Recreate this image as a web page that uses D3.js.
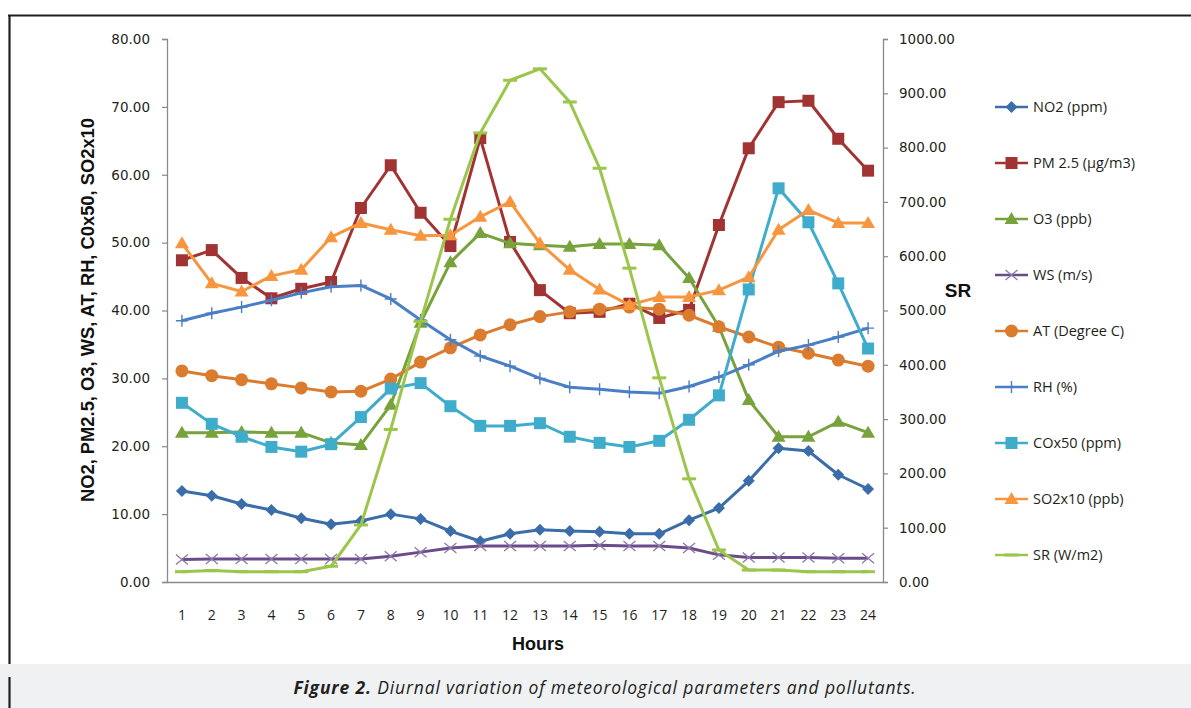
<!DOCTYPE html>
<html><head><meta charset="utf-8">
<script src="https://cdn.jsdelivr.net/npm/d3@7"></script>
<style>body{margin:0;background:#fff;} svg{display:block;}</style>
</head><body>
<svg id="c" width="1191" height="708"></svg>
<script>
const hours = d3.range(1, 25);
const leftTicks = [0,10,20,30,40,50,60,70,80];
const rightTicks = [0,100,200,300,400,500,600,700,800,900,1000];

const NO2  = [13.4,12.7,11.5,10.6,9.4,8.5,9.0,10.0,9.3,7.5,6.0,7.1,7.7,7.5,7.4,7.1,7.1,9.1,10.9,14.9,19.7,19.3,15.8,13.7];
const PM25 = [47.4,48.9,44.8,41.8,43.2,44.2,55.1,61.4,54.4,49.5,65.4,50.1,43.0,39.6,39.8,41.0,38.9,40.1,52.6,63.9,70.7,70.9,65.3,60.6];
const O3   = [22.0,22.0,22.1,22.0,22.0,20.5,20.2,26.1,38.2,47.1,51.4,49.9,49.6,49.4,49.8,49.8,49.6,44.8,37.6,26.8,21.4,21.4,23.6,22.0];
const WS   = [3.3,3.4,3.4,3.4,3.4,3.4,3.4,3.8,4.4,5.0,5.3,5.3,5.3,5.3,5.4,5.3,5.3,5.0,4.0,3.6,3.6,3.6,3.5,3.5];
const AT   = [31.1,30.4,29.8,29.2,28.6,28.0,28.1,29.9,32.4,34.5,36.4,37.9,39.1,39.8,40.2,40.5,40.2,39.3,37.6,36.1,34.6,33.7,32.7,31.8];
const RH   = [38.5,39.6,40.5,41.5,42.6,43.5,43.7,41.7,38.6,35.7,33.3,31.8,30.0,28.7,28.4,28.0,27.8,28.8,30.2,32.0,34.0,34.9,36.1,37.4];
const CO50 = [26.4,23.3,21.4,19.9,19.2,20.3,24.3,28.5,29.3,25.9,23.0,23.0,23.4,21.4,20.5,19.9,20.8,23.9,27.5,43.1,58.0,53.0,44.0,34.4];
const SO2x10 = [49.9,44.0,42.8,45.1,46.0,50.8,52.9,51.9,51.0,51.1,53.8,56.0,49.9,46.0,43.1,40.8,42.0,42.0,43.0,44.9,51.9,54.8,52.9,52.9];
const SR   = [19,21,19,19,19,29,105,281,480,668,827,924,945,884,762,578,376,190,59,22,22,19,19,19];

const seriesNames = ["NO2 (ppm)","PM 2.5 (\u00b5g/m3)","O3 (ppb)","WS (m/s)","AT (Degree C)","RH (%)","COx50 (ppm)","SO2x10 (ppb)","SR (W/m2)"];
const seriesData = [NO2,PM25,O3,WS,AT,RH,CO50,SO2x10,SR];
const seriesColors = ["#3b6da8","#a13432","#77a23c","#6a4c8b","#db7b2e","#4a7ec5","#3faccb","#f7963f","#9cc64b"];
const seriesMarkers = ["diamond","square","triangle","x","circle","plus","square","triangle","dash"];
const seriesAxis = ["L","L","L","L","L","L","L","L","R"];

const svg = d3.select("#c");
// frame
svg.append("rect").attr("x",0).attr("y",664).attr("width",1191).attr("height",44).attr("fill","#f0f1f3");
svg.append("line").attr("x1",8).attr("x2",1191).attr("y1",15.5).attr("y2",15.5).attr("stroke","#231f20").attr("stroke-width",2.2);
svg.append("line").attr("x1",9.5).attr("x2",9.5).attr("y1",15).attr("y2",664).attr("stroke","#231f20").attr("stroke-width",2.2);
svg.append("line").attr("x1",9.5).attr("x2",9.5).attr("y1",677).attr("y2",708).attr("stroke","#231f20").attr("stroke-width",2.2);

const x = d3.scaleBand().domain(hours).range([167,883]);
const yL = d3.scaleLinear().domain([0,80]).range([582,39]);
const yR = d3.scaleLinear().domain([0,1000]).range([582,39]);
const cx = h => x(h) + x.bandwidth()/2;

const tickFont = "'DejaVu Sans', Verdana, sans-serif";
const gL = svg.append("g").attr("transform","translate(167,0)")
  .call(d3.axisLeft(yL).tickValues(leftTicks).tickFormat(d3.format(".2f")).tickSize(5).tickPadding(12));
const gR = svg.append("g").attr("transform","translate(883,0)")
  .call(d3.axisRight(yR).tickValues(rightTicks).tickFormat(d3.format(".2f")).tickSize(5).tickPadding(11));
const gB = svg.append("g").attr("transform","translate(0,582)")
  .call(d3.axisBottom(x).tickSize(0).tickPadding(38));
[gL,gR,gB].forEach(g=>{
  g.select(".domain").attr("stroke","#8a8a8a").attr("stroke-width",1.3);
  g.selectAll(".tick line").attr("stroke","#8a8a8a").attr("stroke-width",1.2);
  g.selectAll("text").attr("fill","#231f20");
});
gL.selectAll("text").attr("font-family",tickFont).attr("font-size",13.5);
gR.selectAll("text").attr("font-family",tickFont).attr("font-size",13.5);
gB.selectAll("text").attr("font-family","'Open Sans', sans-serif").attr("font-size",14).attr("dy","0");

// axis titles
svg.append("text").attr("transform","translate(94,310) rotate(-90)").attr("text-anchor","middle")
  .attr("font-family","'Liberation Sans', Arial, sans-serif").attr("font-weight","bold").attr("font-size",17.5)
  .attr("textLength",384).attr("lengthAdjust","spacingAndGlyphs")
  .attr("fill","#111").text("NO2, PM2.5, O3, WS, AT, RH, C0x50, SO2x10");
svg.append("text").attr("x",958).attr("y",297).attr("text-anchor","middle")
  .attr("font-family","'Liberation Sans', Arial, sans-serif").attr("font-weight","bold").attr("font-size",19)
  .attr("fill","#111").text("SR");
svg.append("text").attr("x",538).attr("y",650).attr("text-anchor","middle")
  .attr("font-family","'Liberation Sans', Arial, sans-serif").attr("font-weight","bold").attr("font-size",18)
  .attr("fill","#111").text("Hours");

// caption
const cap = svg.append("text").attr("x",605).attr("y",694).attr("text-anchor","middle")
  .attr("font-family","'Open Sans', sans-serif").attr("font-style","italic").attr("font-size",17.5)
  .attr("letter-spacing","0.85px").attr("fill","#231f20");
cap.append("tspan").attr("font-weight","bold").text("Figure 2.");
cap.append("tspan").text(" Diurnal variation of meteorological parameters and pollutants.");

function drawMarker(g, type, color, px, py){
  if(type==="diamond"){
    g.append("path").attr("d",`M${px},${py-6}L${px+6},${py}L${px},${py+6}L${px-6},${py}Z`).attr("fill",color);
  } else if(type==="square"){
    g.append("rect").attr("x",px-6).attr("y",py-6).attr("width",12).attr("height",12).attr("fill",color);
  } else if(type==="triangle"){
    g.append("path").attr("d",`M${px},${py-7}L${px+7},${py+5}L${px-7},${py+5}Z`).attr("fill",color);
  } else if(type==="circle"){
    g.append("circle").attr("cx",px).attr("cy",py).attr("r",6.5).attr("fill",color);
  } else if(type==="x"){
    g.append("path").attr("d",`M${px-6},${py-5}L${px+6},${py+5}M${px-6},${py+5}L${px+6},${py-5}`).attr("stroke","#8b7aaa").attr("stroke-width",1.3);
  } else if(type==="plus"){
    g.append("path").attr("d",`M${px-6},${py}L${px+6},${py}M${px},${py-6}L${px},${py+6}`).attr("stroke",color).attr("stroke-width",1.4);
  } else if(type==="dash"){
    g.append("path").attr("d",`M${px-7},${py}L${px+7},${py}`).attr("stroke",color).attr("stroke-width",3);
  }
}

const plot = svg.append("g");
seriesData.forEach((vals,i)=>{
  const ys = seriesAxis[i]==="L" ? yL : yR;
  const g = plot.append("g");
  const line = d3.line().x((d,j)=>cx(hours[j])).y(d=>ys(d));
  g.append("path").datum(vals).attr("d",line).attr("fill","none")
    .attr("stroke",seriesColors[i]).attr("stroke-width",3).attr("stroke-linejoin","round");
  vals.forEach((v,j)=>drawMarker(g, seriesMarkers[i], seriesColors[i], cx(hours[j]), ys(v)));
});

// legend
const leg = svg.append("g");
seriesNames.forEach((name,i)=>{
  const yy = 107 + i*56;
  leg.append("line").attr("x1",995).attr("x2",1028).attr("y1",yy).attr("y2",yy)
    .attr("stroke",seriesColors[i]).attr("stroke-width",2.5);
  drawMarker(leg, seriesMarkers[i], seriesColors[i], 1011.5, yy);
  leg.append("text").attr("x",1033).attr("y",yy).attr("dy","0.35em")
    .attr("font-family","'Open Sans', sans-serif").attr("font-size",14.5).attr("fill","#231f20").text(name);
});
</script>
</body></html>
